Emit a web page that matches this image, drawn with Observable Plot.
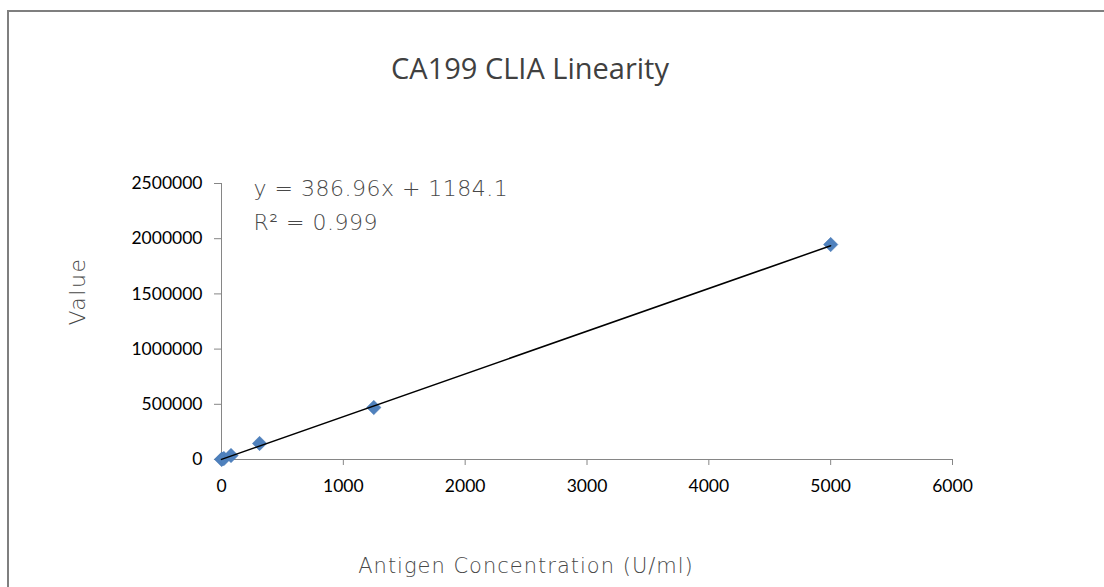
<!DOCTYPE html>
<html>
<head>
<meta charset="utf-8">
<script src="https://cdn.jsdelivr.net/npm/d3@7"></script>
<script src="https://cdn.jsdelivr.net/npm/@observablehq/plot@0.6"></script>
<style>
  html, body { margin: 0; padding: 0; background: #fff; overflow: hidden; }
  #wrap { position: relative; width: 1104px; height: 587px; }
  #frame { position: absolute; left: 7px; top: 10px; width: 1120px; height: 600px;
           border-top: 2px solid #7f7f7f; border-left: 2px solid #7f7f7f; box-sizing: border-box; pointer-events: none; }
  #title { position: absolute; left: 0; top: 45px; width: 1060px; text-align: center;
           font-family: "Open Sans", sans-serif; font-size: 29px; color: #404040; line-height: 46px; }
  #chart { position: absolute; left: 0; top: 110px; }
  .eq text { letter-spacing: 0.5px; }
  .xtitle text { letter-spacing: 1px; }
  .ytitle text { letter-spacing: 1.5px; }
</style>
</head>
<body>
<div id="wrap">
  <div id="frame"></div>
  <div id="title">CA199 CLIA Linearity</div>
  <div id="chart"></div>
</div>
<script>
// Data
const concentrations = [0, 4.9, 19.5, 78.1, 312.5, 1250, 5000];
const values = [1200, 3100, 8600, 36000, 145000, 471000, 1947000];
const slope = 386.96;
const intercept = 1184.1;
const equationLines = ["y = 386.96x + 1184.1", "R² = 0.999"];
const xTicks = [0, 1000, 2000, 3000, 4000, 5000, 6000];
const yTicks = [0, 500000, 1000000, 1500000, 2000000, 2500000];
const xTitle = "Antigen Concentration (U/ml)";
const yTitle = "Value";

const points = concentrations.map((c, i) => ({x: c, y: values[i]}));
const xExtent = d3.extent(concentrations);
const trend = xExtent.map(x => ({x, y: slope * x + intercept}));

const axisColor = "#868686";
const tickFont = "Lato, 'Open Sans', sans-serif";
const lightFont = "'DejaVu Sans', sans-serif";
const lightFill = "#484848";

const chart = Plot.plot({
  width: 1104,
  height: 477,
  marginTop: 73,
  marginBottom: 128,
  marginLeft: 221,
  marginRight: 152,
  style: {background: "transparent", overflow: "visible"},
  x: {domain: [0, 6000], ticks: xTicks},
  y: {domain: [0, 2500000], ticks: yTicks},
  marks: [
    Plot.ruleY([0], {stroke: axisColor, strokeWidth: 1}),
    Plot.ruleX([0], {stroke: axisColor, strokeWidth: 1}),
    Plot.axisX({ticks: xTicks, tickFormat: d3.format("d"), tickSize: 6, stroke: axisColor,
                tickPadding: 14, label: null, fontSize: 17.5, fill: "#000", fontFamily: tickFont}),
    Plot.axisY({ticks: yTicks, tickFormat: d3.format("d"), tickSize: 7, stroke: axisColor,
                tickPadding: 12, label: null, fontSize: 17.5, fill: "#000", fontFamily: tickFont}),
    Plot.dot(points, {x: "x", y: "y", symbol: "diamond2", r: 6.5, fill: "#4F81BD", stroke: "#4A7AB5", strokeWidth: 0.5}),
    Plot.line(trend, {x: "x", y: "y", stroke: "#000", strokeWidth: 1.5}),
    Plot.text([equationLines[0]], {frameAnchor: "top-left", dx: 32, dy: 5, textAnchor: "start", className: "eq",
               lineAnchor: "middle", fontSize: 22, fontWeight: 200, fill: lightFill, fontFamily: lightFont}),
    Plot.text([equationLines[1]], {frameAnchor: "top-left", dx: 32, dy: 39, textAnchor: "start", className: "eq",
               lineAnchor: "middle", fontSize: 22, fontWeight: 200, fill: lightFill, fontFamily: lightFont}),
    Plot.text([xTitle], {frameAnchor: "bottom", dx: -61, dy: 107, lineAnchor: "middle", className: "xtitle",
               fontSize: 21, fontWeight: 200, fill: lightFill, fontFamily: lightFont}),
    Plot.text([yTitle], {frameAnchor: "left", dx: -144, dy: 4, rotate: -90, lineAnchor: "middle", className: "ytitle",
               fontSize: 22, fontWeight: 200, fill: lightFill, fontFamily: lightFont})
  ]
});
document.getElementById("chart").appendChild(chart);
</script>
</body>
</html>
